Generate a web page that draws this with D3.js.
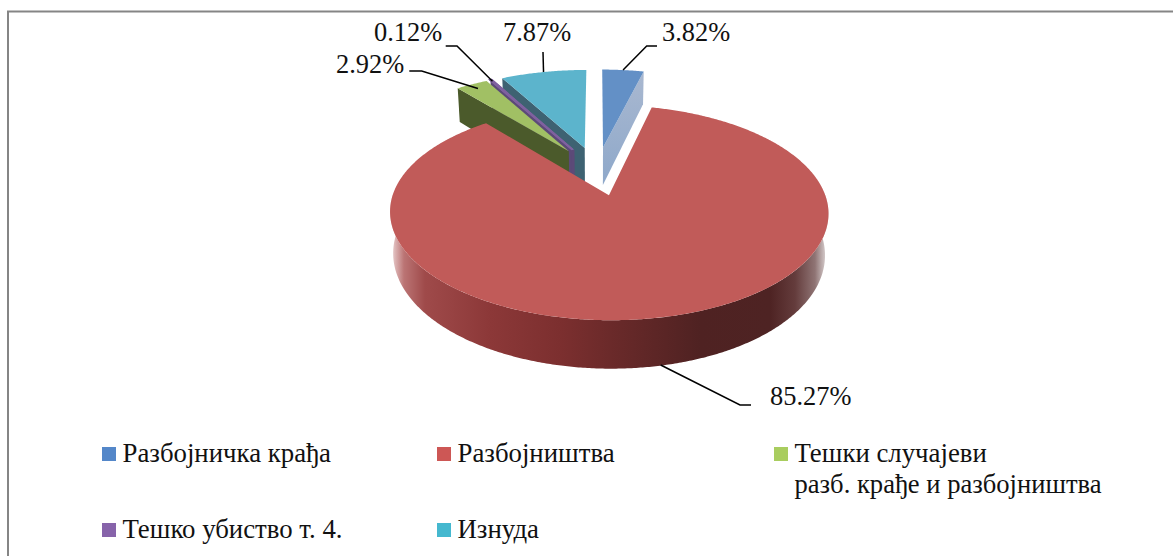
<!DOCTYPE html>
<html><head><meta charset="utf-8">
<script src="https://cdn.jsdelivr.net/npm/d3@7"></script>
<style>html,body{margin:0;padding:0;background:#fff}svg{display:block}text{font-family:"Liberation Serif",serif;fill:#111}</style>
</head><body><div id="chart"></div>
<script>
const categories = ["Разбојничка крађа","Разбојништва","Тешки случајеви","Тешко убиство т. 4.","Изнуда"];
const values = [3.82,85.27,2.92,0.12,7.87];
const valueLabels = ["3.82%","85.27%","2.92%","0.12%","7.87%"];
const legendSecondLine = [null,null,"разб. крађе и разбојништва",null,null];

const colors = ["#6390c6","#c15b59","#a1c064","#7f619f","#5cb4cc"];
const legendColors = ["#5487c9","#cd5755","#a9cd5f","#8763aa","#45b8cf"];
const sideColors = ["#a3b6d2","#7a2e2e","#4b5a2b","#5c4a78","#3e6272"];
// draw order, far slices first
const drawOrder = [0,4,3,2,1];
const labelAnchors = [[662,41],[770,405],[336,73],[374,41],[503,41]];
const leaderElbows = [[[646.7,46],[657,46]],[[740,405],[751,405]],[[421.7,71],[409.3,71]],[[457,46],[445.7,46]],[[543,52]]];
const leaderRadius = [1,null,0.93,0.98,1];
const legendPos = [[102,454],[437,454],[774,454],[102,530],[437,530]];

const W=1173,H=556;
const cx=597,y0=170.6,R=208,A=96.8,p=0.157,explode=0.25,D=39,bottomShrink=0.985;
function proj(U,V,bottom){
  const w=1+p*V;
  const x=cx+(R*U/w)*(bottom?bottomShrink:1);
  const y=y0-A*V/w+(bottom?D/w:0);
  return [x,y];
}
const svg=d3.select("#chart").append("svg").attr("width",W).attr("height",H);

// frame
svg.append("line").attr("x1",7).attr("x2",W).attr("y1",11.5).attr("y2",11.5).attr("stroke","#858585").attr("stroke-width",2);
svg.append("line").attr("x1",8).attr("x2",8).attr("y1",11).attr("y2",H).attr("stroke","#858585").attr("stroke-width",2);

// gradient of red outer wall
const gradStops=[[390,"#f0e0e0"],[396,"#d9aeae"],[404,"#bb7474"],[425,"#9f4a4a"],[490,"#8c3838"],[560,"#7c2f2f"],[610,"#6b2a2a"],[700,"#4f2222"],[770,"#4e2323"],[795,"#643c3c"],[815,"#8f7474"],[826,"#d8cfcf"]];
const defs=svg.append("defs");
const g=defs.append("linearGradient").attr("id","wall").attr("gradientUnits","userSpaceOnUse").attr("x1",390).attr("x2",827).attr("y1",0).attr("y2",0);
gradStops.forEach(s=>g.append("stop").attr("offset",(s[0]-390)/437).attr("stop-color",s[1]));
const blueGrad=defs.append("linearGradient").attr("id","blueSide").attr("x1",0).attr("x2",0).attr("y1",0).attr("y2",1);
blueGrad.append("stop").attr("offset",0).attr("stop-color","#a9b8d0");
blueGrad.append("stop").attr("offset",1).attr("stop-color","#8ea8ca");

const arcs=d3.pie().sort(null).value(d=>d)(values);
const line=d3.line();
const step=Math.PI/180;
function slicePts(a){
  const m=(a.startAngle+a.endAngle)/2;
  const ou=explode*Math.sin(m),ov=explode*Math.cos(m);
  const P=(t,r,b)=>proj(ou+r*Math.sin(t),ov+r*Math.cos(t),b);
  return {P,m};
}
function rim(a,P,b,from,to){
  from=from===undefined?a.startAngle:from;to=to===undefined?a.endAngle:to;
  return d3.range(from,to,step/2).concat([to]).map(t=>P(t,1,b));
}
function topFace(G,a,P,i){
  const pts=[P(a.startAngle,0,false)].concat(rim(a,P,false));
  G.append("path").attr("d",line(pts)+"Z").attr("fill",colors[i])
    .attr("stroke",i===3?colors[i]:"none").attr("stroke-width",i===3?2:0);
}
drawOrder.forEach(i=>{
  const a=arcs[i];
  const {P}=slicePts(a);
  const G=svg.append("g");
  const sideFill=i===0?"url(#blueSide)":sideColors[i];
  // cut faces
  if(i!==1){
    const edge = i===0 ? a.endAngle : a.startAngle;
    G.append("path").attr("d",line([P(edge,1,false),P(edge,0,false),P(edge,0,true),P(edge,1,true)])+"Z")
      .attr("fill",sideFill);
  }
  // outer wall (only the near half is visible)
  if(i===1){
    const from=Math.PI/2-0.02,to=3*Math.PI/2+0.02;
    const topRim=rim(a,P,false,from,to),botRim=rim(a,P,true,from,to).reverse();
    G.append("path").attr("d",line(topRim.concat(botRim))+"Z").attr("fill","url(#wall)");
  }
  // top face
  topFace(G,a,P,i);
  // the sliver sits on top of its neighbour's wall
  if(i===2){
    const b=arcs[3],s=slicePts(b);
    topFace(G,b,s.P,3);
    G.append("path").attr("d",line([s.P(b.startAngle,0,false),s.P(b.startAngle,0,true)]))
      .attr("stroke",sideColors[3]).attr("stroke-width",3).attr("fill","none");
  }
});

// leader lines
arcs.forEach((a,i)=>{
  const {P,m}=slicePts(a);
  const start = i===1 ? [660.7,365] : P(m,leaderRadius[i],false);
  svg.append("path").attr("d",line([start].concat(leaderElbows[i])))
    .attr("fill","none").attr("stroke","#000").attr("stroke-width",1.5);
});

// value labels
valueLabels.forEach((t,i)=>{
  svg.append("text").attr("x",labelAnchors[i][0]).attr("y",labelAnchors[i][1]).attr("font-size",26.4).text(t);
});

// legend
categories.forEach((c,i)=>{
  const [x,y]=legendPos[i];
  svg.append("rect").attr("x",x).attr("y",y-7).attr("width",14).attr("height",14).attr("fill",legendColors[i]);
  svg.append("text").attr("x",x+20.5).attr("y",y+8).attr("font-size",26.8).text(c);
  if(legendSecondLine[i]) svg.append("text").attr("x",x+20.5).attr("y",y+39).attr("font-size",26.6).text(legendSecondLine[i]);
});
</script></body></html>
